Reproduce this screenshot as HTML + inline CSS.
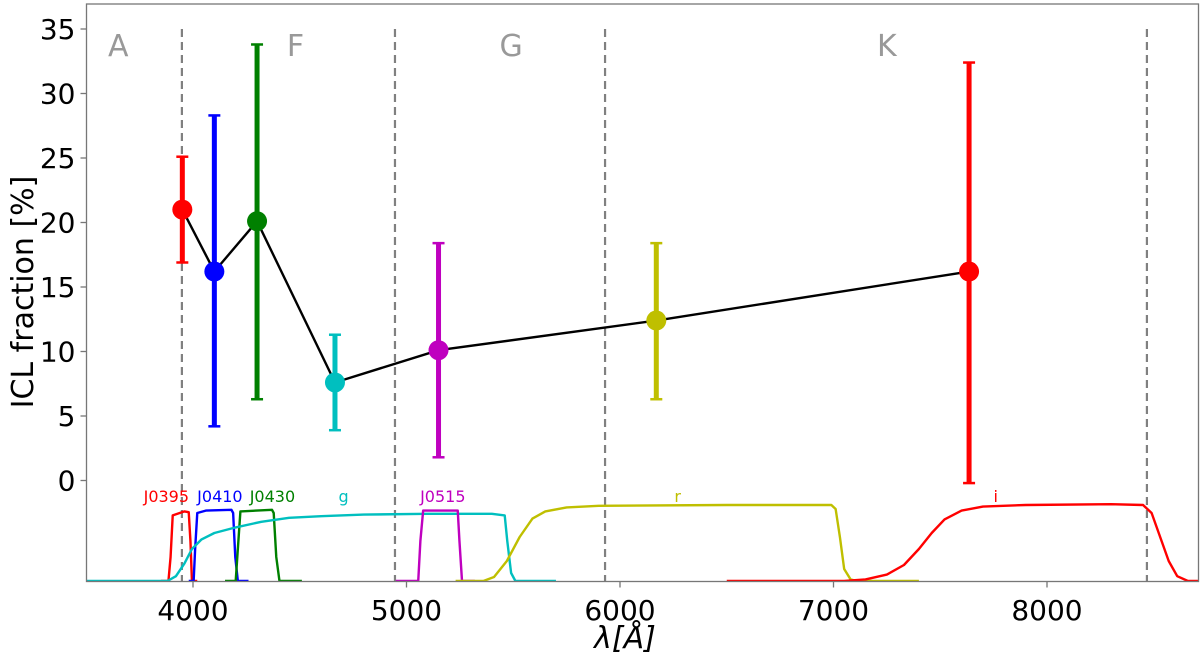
<!DOCTYPE html>
<html><head><meta charset="utf-8"><style>
body{margin:0;background:#fff;}
svg{display:block;font-family:"DejaVu Sans","Liberation Sans",sans-serif;}
</style></head><body>
<svg id="chart" width="1200" height="660" xmlns="http://www.w3.org/2000/svg"></svg>
<script>
const wavelengths=[3950,4100,4300,4665,5150,6170,7635];
const iclValues=[21.0,16.2,20.1,7.6,10.1,12.4,16.2];
const errLow=[16.9,4.2,6.3,3.9,1.8,6.3,-0.2];
const errHigh=[25.1,28.3,33.8,11.3,18.4,18.4,32.4];
const pointColors=["#ff0000","#0000ff","#008000","#00bfbf","#bf00bf","#bfbf00","#ff0000"];
const yTicks=[0,5,10,15,20,25,30,35];
const xTicks=[4000,5000,6000,7000,8000];
const dividers=[3948,4946,5930,8468];
const regionLabels=["A","F","G","K"];
const regionPos=[3650,4480,5490,7250];
const filterNames=["J0395","J0410","J0430","g","J0515","r","i"];
const filterLabelPos=[3875,4126,4372,4705,5170,6270,7760];
const filterColors=["#ff0000","#0000ff","#008000","#00bfbf","#bf00bf","#bfbf00","#ff0000"];
const filterCurves=[
 [[3850,0],[3885,0],[3895,0.3],[3905,0.82],[3960,0.87],[3980,0.86],[3988,0.5],[3995,0],[4020,0]],
 [[3980,0],[4003,0],[4010,0.4],[4020,0.85],[4060,0.88],[4180,0.89],[4188,0.85],[4198,0.3],[4210,0],[4260,0]],
 [[4150,0],[4200,0],[4210,0.4],[4222,0.87],[4370,0.89],[4378,0.85],[4390,0.3],[4405,0],[4510,0]],
 [[3500,0],[3880,0],[3920,0.06],[3960,0.22],[3995,0.4],[4040,0.52],[4100,0.6],[4200,0.67],[4320,0.74],[4450,0.79],[4600,0.81],[4800,0.83],[5100,0.84],[5400,0.84],[5460,0.82],[5472,0.5],[5490,0.1],[5510,0],[5700,0]],
 [[4950,0],[5055,0],[5065,0.5],[5078,0.88],[5240,0.88],[5248,0.5],[5260,0],[5320,0]],
 [[5230,0],[5360,0],[5410,0.05],[5470,0.25],[5530,0.55],[5590,0.78],[5650,0.87],[5750,0.92],[5900,0.94],[6500,0.95],[6990,0.95],[7010,0.9],[7030,0.55],[7050,0.15],[7080,0.02],[7110,0],[7400,0]],
 [[6500,0],[7050,0],[7150,0.02],[7250,0.08],[7330,0.2],[7400,0.4],[7460,0.6],[7520,0.77],[7600,0.88],[7700,0.93],[7900,0.95],[8300,0.96],[8450,0.95],[8490,0.85],[8530,0.55],[8570,0.25],[8610,0.06],[8660,0],[8710,0]]
];
const NS="http://www.w3.org/2000/svg";
const svg=document.getElementById('chart');
const L=86.5,R=1198.5,T=4,B=581.5;
const xs=l=>193+(l-4000)*0.2135;
const ys=v=>480.5-v*12.9;
const fy=t=>581-t*80;
function mk(tag,attrs,parent){const e=document.createElementNS(NS,tag);for(const k in attrs)e.setAttribute(k,attrs[k]);(parent||svg).appendChild(e);return e;}
const defs=mk('defs',{});const cp=mk('clipPath',{id:'clip'},defs);mk('rect',{x:L,y:T,width:R-L,height:B-T},cp);
const plot=mk('g',{'clip-path':'url(#clip)'});


dividers.forEach((d,i)=>{const ln=mk('line',{x1:xs(d),x2:xs(d),y1:29,y2:B,stroke:'#808080','stroke-width':2.2,'stroke-dasharray':'8,5'},plot);

});
regionLabels.forEach((t,i)=>{const e=mk('text',{x:xs(regionPos[i]),y:56,'font-size':30,fill:'#999','text-anchor':'middle'},plot);e.textContent=t;

});
filterCurves.forEach((c,i)=>{const p=mk('polyline',{points:c.map(q=>xs(q[0])+','+fy(q[1])).join(' '),fill:'none',stroke:filterColors[i],'stroke-width':2.4,'stroke-linejoin':'round'},plot);


const t=mk('text',{x:xs(filterLabelPos[i]),y:502,'font-size':16,fill:filterColors[i],'text-anchor':'middle'},plot);t.textContent=filterNames[i];

});
const ln=mk('polyline',{points:wavelengths.map((w,i)=>xs(w)+','+ys(iclValues[i])).join(' '),fill:'none',stroke:'#000','stroke-width':2.4},plot);


wavelengths.forEach((w,i)=>{const x=xs(w);
const e=mk('line',{x1:x,x2:x,y1:ys(errLow[i]),y2:ys(errHigh[i]),stroke:pointColors[i],'stroke-width':5},plot);


[errLow[i],errHigh[i]].forEach(v=>{const c=mk('line',{x1:x-6,x2:x+6,y1:ys(v),y2:ys(v),stroke:pointColors[i],'stroke-width':2.5},plot);

});
const p=mk('circle',{cx:x,cy:ys(iclValues[i]),r:10,fill:pointColors[i]},plot);

});
const fr=mk('rect',{x:L,y:T,width:R-L,height:B-T,fill:'none',stroke:'#777','stroke-width':1.3});


yTicks.forEach(v=>{const y=ys(v);mk('line',{x1:L-6,x2:L,y1:y,y2:y,stroke:'#777','stroke-width':1.3});
const t=mk('text',{x:L-11,y:y+10,'font-size':28,'text-anchor':'end',fill:'#000'});t.textContent=v;

});
xTicks.forEach(v=>{const x=xs(v);mk('line',{x1:x,x2:x,y1:B,y2:B+6,stroke:'#777','stroke-width':1.3});
const t=mk('text',{x:x,y:620,'font-size':28,'text-anchor':'middle',fill:'#000'});t.textContent=v;

});
const yt=mk('text',{x:0,y:0,'font-size':30,'text-anchor':'middle',transform:'translate(33,292) rotate(-90)'});yt.textContent='ICL fraction [%]';


const xt=mk('text',{x:625,y:648,'font-size':30,'text-anchor':'middle','font-style':'italic'});xt.textContent='λ[Å]';


</script>
</body></html>
